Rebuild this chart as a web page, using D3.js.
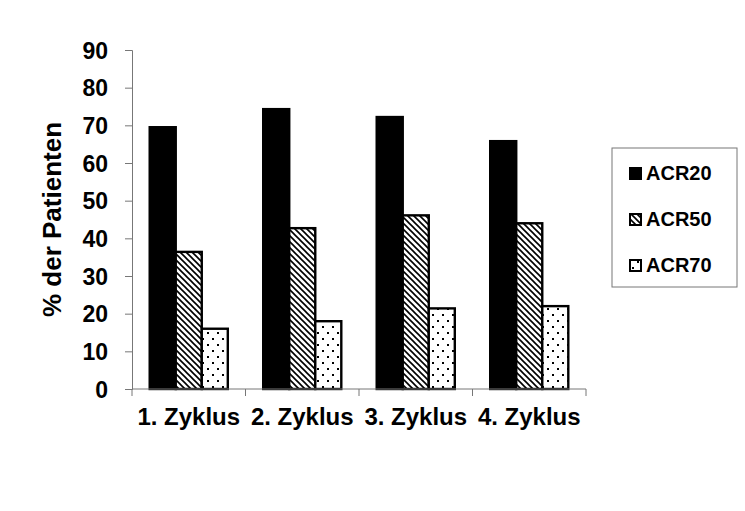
<!DOCTYPE html>
<html>
<head>
<meta charset="utf-8">
<script src="https://d3js.org/d3.v7.min.js"></script>
<style>
    body { margin: 0; background: #fff; }
    text { font-family: Arial, "Liberation Sans", sans-serif; font-weight: bold; fill: #000; }
</style>
</head>
<body>
<div id="chart"></div>
<script>
    var categories = ['1. Zyklus', '2. Zyklus', '3. Zyklus', '4. Zyklus'];
    var seriesNames = ['ACR20', 'ACR50', 'ACR70'];
    var acr20 = [69.5, 74.3, 72.2, 65.8];
    var acr50 = [36.4, 42.7, 46.1, 44.0];
    var acr70 = [16.0, 18.0, 21.4, 22.0];
    var yTicks = [0, 10, 20, 30, 40, 50, 60, 70, 80, 90];

    var width = 745, height = 511;
    var margin = {left: 132, right: 159, top: 50, bottom: 122};

    var svg = d3.select('#chart').append('svg')
        .attr('width', width).attr('height', height);

    // fill patterns
    var defs = svg.append('defs');
    var hatch = defs.append('pattern')
        .attr('id', 'hatch').attr('patternUnits', 'userSpaceOnUse')
        .attr('width', 6).attr('height', 6);
    hatch.append('rect').attr('width', 6).attr('height', 6).attr('fill', '#fff');
    hatch.append('path').attr('d', 'M-1,-1 L7,7 M-1,5 L1,7 M5,-1 L7,1')
        .attr('stroke', '#000').attr('stroke-width', 1.6);

    var dots = defs.append('pattern')
        .attr('id', 'dots').attr('patternUnits', 'userSpaceOnUse')
        .attr('width', 10).attr('height', 12);
    dots.append('rect').attr('width', 10).attr('height', 12).attr('fill', '#fff');
    dots.append('rect').attr('x', 2).attr('y', 2).attr('width', 2).attr('height', 2).attr('fill', '#000');
    dots.append('rect').attr('x', 7).attr('y', 8).attr('width', 2).attr('height', 2).attr('fill', '#000');

    var fills = ['#000', 'url(#hatch)', 'url(#dots)'];

    var x0 = d3.scaleBand().domain(categories)
        .range([margin.left, width - margin.right]).paddingInner(0).paddingOuter(0);
    var x1 = d3.scaleBand().domain(seriesNames)
        .range([0, x0.bandwidth()]).paddingOuter(0.68).paddingInner(0);
    var y = d3.scaleLinear().domain([0, 90]).range([height - margin.bottom, margin.top]);

    var rows = categories.map(function (c, i) {
        return {cat: c, vals: [acr20[i], acr50[i], acr70[i]]};
    });

    // bars
    var g = svg.append('g');
    rows.forEach(function (r) {
        r.vals.forEach(function (v, j) {
            g.append('rect')
                .attr('x', x0(r.cat) + x1(seriesNames[j]))
                .attr('y', y(v))
                .attr('width', x1.bandwidth())
                .attr('height', y(0) - y(v))
                .attr('fill', fills[j])
                .attr('stroke', '#000')
                .attr('stroke-width', 2.4);
        });
    });

    // y axis
    var yAxis = svg.append('g')
        .attr('transform', 'translate(' + margin.left + ',0)')
        .call(d3.axisLeft(y).tickValues(yTicks).tickSize(7).tickPadding(17));
    yAxis.selectAll('line, path').attr('stroke', '#777');
    yAxis.selectAll('text').style('font-size', '23px').attr('dy', '0.36em');

    // x axis
    var xAxis = svg.append('g')
        .attr('transform', 'translate(0,' + y(0) + ')');
    xAxis.append('line')
        .attr('x1', margin.left).attr('x2', width - margin.right)
        .attr('stroke', '#777');
    var edges = categories.map(function (c) { return x0(c); }).concat([width - margin.right]);
    xAxis.selectAll('.tk').data(edges).enter().append('line')
        .attr('x1', function (d) { return d; }).attr('x2', function (d) { return d; })
        .attr('y1', 0).attr('y2', 7).attr('stroke', '#777');
    xAxis.selectAll('.lbl').data(categories).enter().append('text')
        .attr('x', function (d) { return x0(d) + x0.bandwidth() / 2; })
        .attr('y', 36)
        .attr('text-anchor', 'middle')
        .style('font-size', '24px')
        .text(function (d) { return d; });

    // y title
    svg.append('text')
        .attr('transform', 'translate(61,' + y(45) + ') rotate(-90)')
        .attr('text-anchor', 'middle')
        .style('font-size', '26px')
        .text('% der Patienten');

    // legend
    var lg = svg.append('g').attr('transform', 'translate(612,148)');
    lg.append('rect').attr('width', 125).attr('height', 139)
        .attr('fill', '#fff').attr('stroke', '#777');
    seriesNames.forEach(function (s, i) {
        var row = lg.append('g').attr('transform', 'translate(18,' + (25 + i * 46) + ')');
        row.append('rect').attr('x', 0).attr('y', -5).attr('width', 11).attr('height', 11)
            .attr('fill', fills[i]).attr('stroke', '#000').attr('stroke-width', 2);
        row.append('text').attr('x', 16).attr('y', 0).attr('dy', '0.36em')
            .style('font-size', '20px').text(s);
    });
</script>
</body>
</html>
